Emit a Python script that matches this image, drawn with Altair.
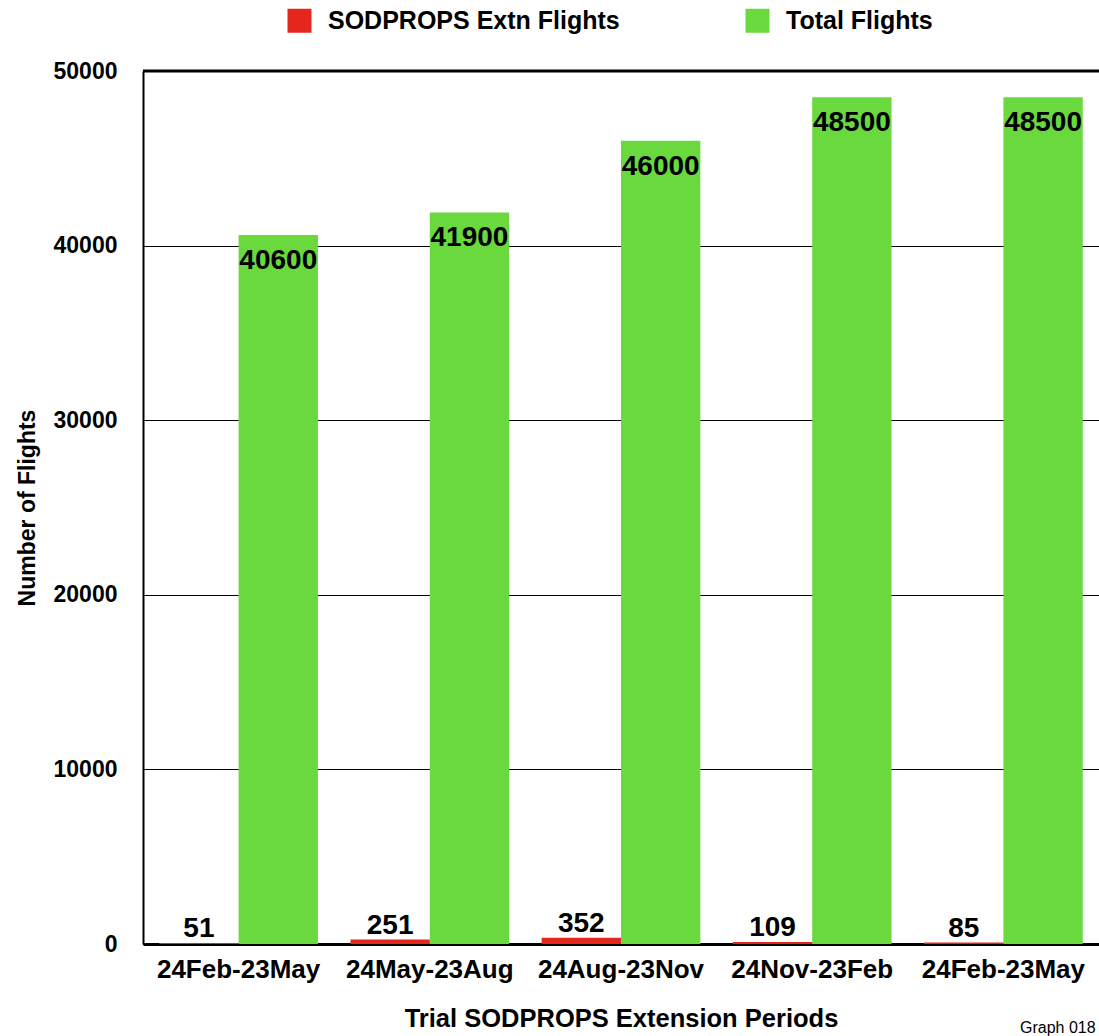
import altair as alt
import pandas as pd

periods = ["24Feb-23May", "24May-23Aug", "24Aug-23Nov", "24Nov-23Feb", "24Feb-23May"]
sodprops_flights = [51, 251, 352, 109, 85]
total_flights = [40600, 41900, 46000, 48500, 48500]
series_names = ["SODPROPS Extn Flights", "Total Flights"]
series_colors = ["#e4261c", "#6ad93e"]
y_ticks = [0, 10000, 20000, 30000, 40000, 50000]

rows = []
for i, p in enumerate(periods):
    rows.append({"idx": i, "period": p, "series": series_names[0], "value": sodprops_flights[i]})
    rows.append({"idx": i, "period": p, "series": series_names[1], "value": total_flights[i]})
df = pd.DataFrame(rows)

label_expr = "[" + ",".join("'" + p + "'" for p in periods) + "][datum.value]"
FONT = "Liberation Sans"

x_enc = alt.X(
    "idx:O",
    scale=alt.Scale(paddingInner=0.17, paddingOuter=0.085),
    axis=alt.Axis(
        title="Trial SODPROPS Extension Periods",
        labelExpr=label_expr,
        labelAngle=0,
        labelFontSize=26,
        labelFontWeight="bold",
        labelColor="black",
        labelPadding=12,
        labelBaseline="top",
        ticks=False,
        domain=True,
        domainColor="black",
        domainWidth=3,
        grid=False,
        titleFontSize=25.5,
        titleFontWeight="bold",
        titleColor="black",
        titlePadding=24,
    ),
)
xoff_enc = alt.XOffset("series:N", sort=series_names, scale=alt.Scale(paddingInner=0, paddingOuter=0))
y_scale = alt.Scale(domain=[0, 50000], nice=False)

base = alt.Chart(df)

bars = base.mark_bar(opacity=1).encode(
    x=x_enc,
    xOffset=xoff_enc,
    y=alt.Y(
        "value:Q",
        scale=y_scale,
        axis=alt.Axis(
            title="Number of Flights",
            values=y_ticks,
            format="d",
            labelFontSize=23,
            labelFontWeight="bold",
            labelColor="black",
            labelPadding=26,
            ticks=False,
            domain=True,
            domainColor="black",
            domainWidth=2,
            grid=True,
            gridColor="black",
            gridWidth=1,
            gridOpacity=1,
            titleFontSize=23,
            titleFontWeight="bold",
            titleColor="black",
            titlePadding=14,
        ),
    ),
    color=alt.Color(
        "series:N",
        scale=alt.Scale(domain=series_names, range=series_colors),
        legend=alt.Legend(
            title=None,
            orient="none",
            legendX=144,
            legendY=-63,
            direction="horizontal",
            symbolType="square",
            symbolSize=576,
            symbolStrokeWidth=0,
            symbolOpacity=1,
            labelFontSize=25,
            labelFontWeight="bold",
            labelColor="black",
            labelOffset=16,
            labelLimit=0,
            columnPadding=125,
        ),
    ),
)

red_labels = base.transform_filter(
    alt.datum.series == series_names[0]
).mark_text(
    fontSize=28, fontWeight="bold", color="black", baseline="alphabetic", dy=-6
).encode(
    x=x_enc,
    xOffset=xoff_enc,
    y=alt.Y("value:Q", scale=y_scale),
    text=alt.Text("value:Q", format="d"),
)

green_labels = base.transform_filter(
    alt.datum.series == series_names[1]
).mark_text(
    fontSize=28, fontWeight="bold", color="black", baseline="top", dy=12
).encode(
    x=x_enc,
    xOffset=xoff_enc,
    y=alt.Y("value:Q", scale=y_scale),
    text=alt.Text("value:Q", format="d"),
)

top_border = alt.Chart(pd.DataFrame({"v": [50000]})).mark_rule(
    color="black", strokeWidth=3
).encode(y=alt.Y("v:Q", scale=y_scale))

note = alt.Chart(pd.DataFrame({"t": ["Graph 018"]})).mark_text(
    fontSize=16, color="black", align="left", baseline="alphabetic"
).encode(text="t:N", x=alt.value(877), y=alt.value(962))

chart = alt.layer(bars, red_labels, green_labels, top_border, note).properties(
    width=956,
    height=873,
    autosize=alt.AutoSizeParams(type="none"),
    padding={"left": 143, "top": 71, "right": 0, "bottom": 92},
).configure(
    font=FONT,
).configure_view(
    stroke=None
)

chart.save("out.html", embed_options={"renderer": "svg", "actions": False})
